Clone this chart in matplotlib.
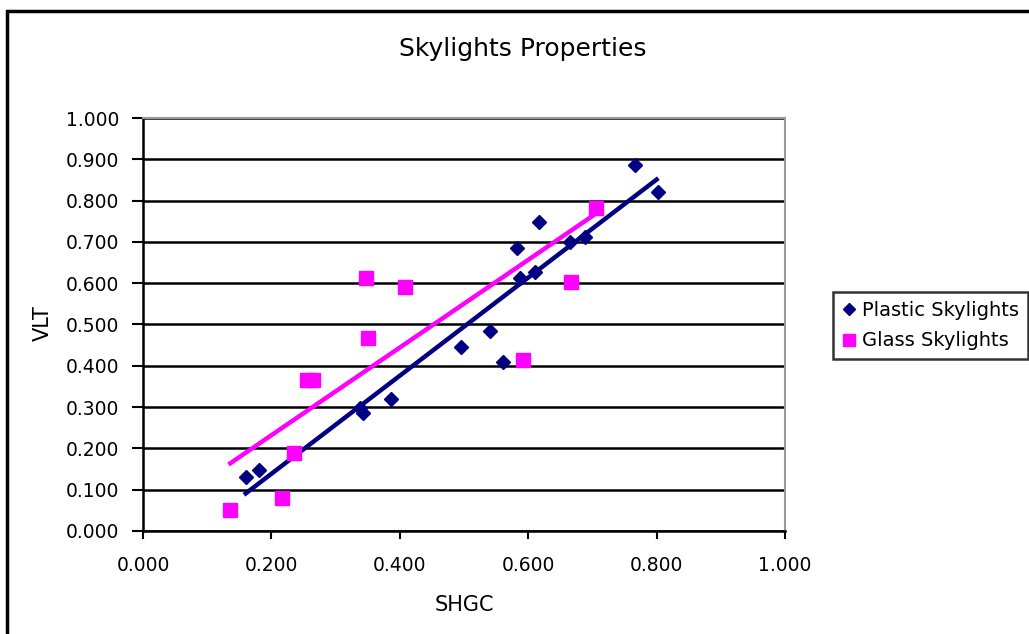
import numpy as np
import matplotlib
matplotlib.use("Agg")
import matplotlib.pyplot as plt
from matplotlib.patches import Rectangle
from matplotlib.ticker import FormatStrFormatter, MultipleLocator

plt.rcParams['font.family'] = ['DejaVu Sans']

plastic_shgc = [0.160, 0.181, 0.338, 0.342, 0.387, 0.496, 0.541, 0.560, 0.583, 0.587,
                0.610, 0.617, 0.665, 0.688, 0.766, 0.802]
plastic_vlt = [0.131, 0.148, 0.298, 0.286, 0.320, 0.446, 0.484, 0.410, 0.686, 0.612,
               0.628, 0.748, 0.700, 0.711, 0.886, 0.822]

glass_shgc = [0.136, 0.217, 0.235, 0.255, 0.265, 0.347, 0.351, 0.408, 0.592, 0.666, 0.706]
glass_vlt = [0.052, 0.079, 0.190, 0.366, 0.366, 0.612, 0.468, 0.590, 0.414, 0.604, 0.781]

# linear trend lines (endpoints)
plastic_trend_shgc = [0.160, 0.800]
plastic_trend_vlt = [0.091, 0.851]
glass_trend_shgc = [0.136, 0.706]
glass_trend_vlt = [0.164, 0.769]

title = "Skylights Properties"
xlabel = "SHGC"
ylabel = "VLT"
labels = ["Plastic Skylights", "Glass Skylights"]

navy = "#000080"
magenta = "#FF00FF"

W, H = 1029, 634
fig = plt.figure(figsize=(W / 100, H / 100), dpi=100)
fig.patch.set_facecolor("white")
fig.patches.append(Rectangle((7 / W, -0.1), 1.2, 1 - 11 / H + 0.1, transform=fig.transFigure,
                             fill=False, edgecolor="black", linewidth=2.5, zorder=0))

ax = fig.add_axes([143 / W, (H - 531) / H, (785 - 143) / W, (531 - 118) / H])
ax.set_xlim(0, 1.0)
ax.set_ylim(0, 1.0)
ax.xaxis.set_major_locator(MultipleLocator(0.2))
ax.yaxis.set_major_locator(MultipleLocator(0.1))
ax.xaxis.set_major_formatter(FormatStrFormatter("%.3f"))
ax.yaxis.set_major_formatter(FormatStrFormatter("%.3f"))
ax.grid(axis="y", color="black", linewidth=1.8)
ax.set_axisbelow(True)
for s in ["top", "right"]:
    ax.spines[s].set_color("#999999")
    ax.spines[s].set_linewidth(1.5)
for s in ["left", "bottom"]:
    ax.spines[s].set_color("black")
    ax.spines[s].set_linewidth(1.8)
ax.tick_params(axis="y", direction="out", length=8, width=1.5, labelsize=13.5, pad=9)
ax.tick_params(axis="x", direction="out", length=6, width=1.5, labelsize=13.5, pad=12)

p1, = ax.plot(plastic_shgc, plastic_vlt, linestyle="none", marker="D", markersize=7,
              color=navy, label=labels[0], zorder=3)
p2, = ax.plot(glass_shgc, glass_vlt, linestyle="none", marker="s", markersize=10,
              color=magenta, label=labels[1], zorder=3)

ax.plot(plastic_trend_shgc, plastic_trend_vlt, color=navy, linewidth=3.2, zorder=2)
ax.plot(glass_trend_shgc, glass_trend_vlt, color=magenta, linewidth=3.2, zorder=2)

fig.text(464 / W, 1 - 605 / H, xlabel, ha="center", va="center", fontsize=15)
fig.text(43 / W, 1 - 323 / H, ylabel, ha="center", va="center", fontsize=15, rotation=90)
fig.text(523 / W, 1 - 49 / H, title, ha="center", va="center", fontsize=18)

leg = fig.legend(handles=[p1, p2], loc="upper left", bbox_to_anchor=(833 / W, 1 - 292 / H),
                 frameon=True, fancybox=False, edgecolor="black", fontsize=14,
                 handlelength=0.7, handletextpad=0.35, borderpad=0.45, labelspacing=0.6,
                 borderaxespad=0, markerscale=0.9)
leg.get_frame().set_linewidth(1.8)

fig.savefig("out.png", dpi=100)
